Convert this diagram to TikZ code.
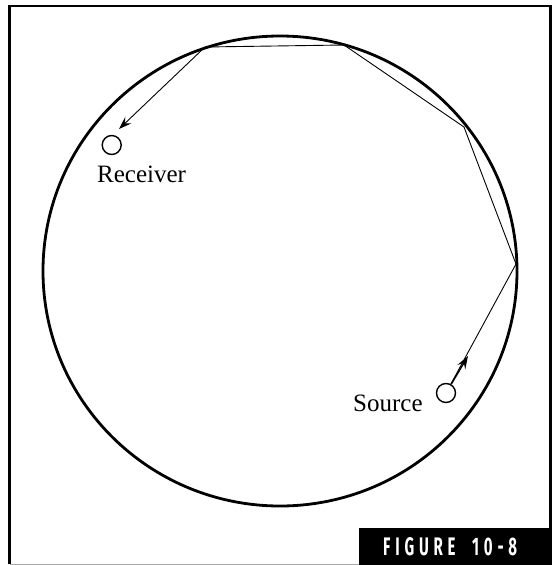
\documentclass[tikz,border=0pt]{standalone}
\usepackage{fontspec}
\usepackage{graphicx}
\setmainfont{Liberation Serif}
\newfontfamily\figfont[LetterSpace=32]{Fira Sans}
\usetikzlibrary{arrows.meta}
\begin{document}
\begin{tikzpicture}[x=1pt,y=-1pt,
  ray/.style={line width=0.9pt},
  port/.style={circle, draw, line width=1.4pt, minimum size=19pt, inner sep=0pt},
  lbl/.style={anchor=base west, inner sep=0pt, font=\fontsize{25}{25}\selectfont},
  tip/.style={-{Stealth[length=13pt,width=9pt,inset=5pt]}}]
\useasboundingbox (0,0) rectangle (552,565);
% frame
\draw[line width=2.8pt] (9.5,564) -- (9.5,6) -- (550.5,6) -- (550.5,564);
\draw[gray!70, line width=1pt] (9.5,564) -- (550.5,564);
% room
\draw[line width=2.8pt] (280,271) ellipse [x radius=237, y radius=235];
% reflection points
\coordinate (p1) at (205,47);
\coordinate (p2) at (344,45);
\coordinate (p3) at (464,127);
\coordinate (p4) at (516,264);
\coordinate (rtip) at (119,129);
\coordinate (stip) at (468,356);
% receiver / source
\node[port] (rec) at (111.7,145) {};
\node[port] (src) at (446,393) {};
\node[lbl] (reclbl) at (97,182.7) {Receiver};
\node[lbl] (srclbl) at (353,411.7) {Source};
% path
\draw[ray] (src) -- (p4) -- (p3) -- (p2) -- (p1);
\draw[ray, tip] (p1) -- (rtip);
\draw[line width=1.4pt, tip] (src) -- (stip);
% label
\node[fill=black, anchor=north west, minimum width=193pt, minimum height=37pt, inner sep=0pt] (lab) at (359,528) {};
\node[anchor=base west, inner sep=0pt, text=white] (labtxt) at (383,555) {\resizebox{134pt}{18pt}{\figfont\bfseries FIGURE\hspace*{1.1em}10-8}};
\end{tikzpicture}
\end{document}
